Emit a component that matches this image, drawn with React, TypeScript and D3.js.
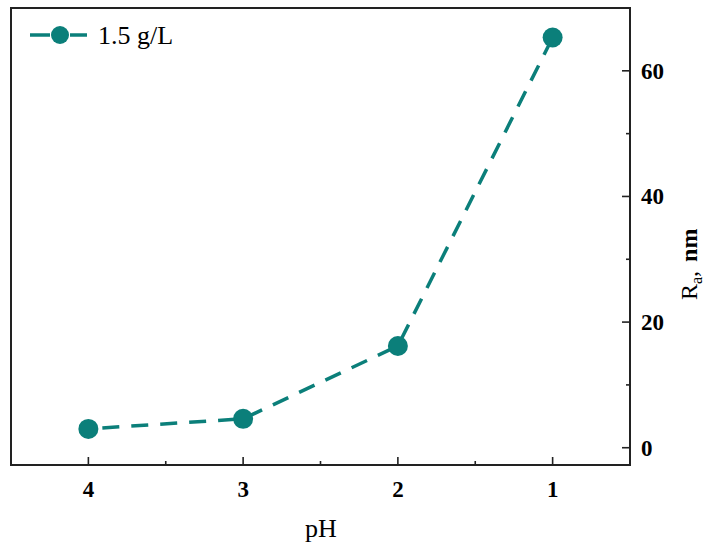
import React from "react";
import * as d3 from "d3";

const phValues = [4, 3, 2, 1];
const raValues = [3.0, 4.6, 16.2, 65.3];
const xMajorTicks = [4, 3, 2, 1];
const xMinorTicks = [3.5, 2.5, 1.5];
const yMajorTicks = [0, 20, 40, 60];
const yMinorTicks = [10, 30, 50, 70];
const seriesLabel = "1.5 g/L";

const W = 709, H = 547;
const L = 11, R = 630, T = 8, B = 465;
const color = "#0b7f7a";
const font = "'Liberation Serif', 'Times New Roman', serif";

export default function App() {
  const x = d3.scaleLinear().domain([4.5, 0.5]).range([L, R]);
  const y = d3.scaleLinear().domain([-2.75, 70]).range([B, T]);
  const line = d3.line<number>().x((_, i) => x(phValues[i])).y((d) => y(d));
  return (
    <svg width={W} height={H} style={{ position: "absolute", left: 0, top: 0 }}>
      <rect x={0} y={0} width={W} height={H} fill="#fff" />
      <path d={line(raValues) || ""} fill="none" stroke={color} strokeWidth={3.5} strokeDasharray="17 12" strokeDashoffset={-14} />
      {raValues.map((v, i) => (
        <circle key={i} cx={x(phValues[i])} cy={y(v)} r={10} fill={color} />
      ))}
      <rect x={L} y={T} width={R - L} height={B - T} fill="none" stroke="#222" strokeWidth={2} />
      {xMajorTicks.map((t) => (
        <g key={"xm" + t}>
          <line x1={x(t)} x2={x(t)} y1={B} y2={B - 8} stroke="#222" strokeWidth={1.6} />
          <text x={x(t)} y={497} textAnchor="middle" fontFamily={font} fontWeight="bold" fontSize={23}>{t}</text>
        </g>
      ))}
      {xMinorTicks.map((t) => (
        <line key={"xn" + t} x1={x(t)} x2={x(t)} y1={B} y2={B - 4} stroke="#222" strokeWidth={1.6} />
      ))}
      {yMajorTicks.map((t) => (
        <g key={"ym" + t}>
          <line x1={R} x2={R - 8} y1={y(t)} y2={y(t)} stroke="#222" strokeWidth={1.6} />
          <text x={641} y={y(t) + 8} textAnchor="start" fontFamily={font} fontWeight="bold" fontSize={23}>{t}</text>
        </g>
      ))}
      {yMinorTicks.map((t) => (
        <line key={"yn" + t} x1={R} x2={R - 4} y1={y(t)} y2={y(t)} stroke="#222" strokeWidth={1.6} />
      ))}
      <text transform={`translate(697,${300}) rotate(-90)`} textAnchor="start" fontFamily={font} fontSize={24}>
        <tspan>R</tspan>
        <tspan fontSize={16} dy={5}>a</tspan>
        <tspan dy={-5}>,</tspan>
        <tspan dx={9} fontWeight="bold">nm</tspan>
      </text>
      <text x={321} y={537} textAnchor="middle" fontFamily={font} fontSize={26}>pH</text>
      <line x1={30} x2={50} y1={35} y2={35} stroke={color} strokeWidth={3.5} />
      <line x1={70} x2={87} y1={35} y2={35} stroke={color} strokeWidth={3.5} />
      <circle cx={60} cy={35} r={9} fill={color} />
      <text x={98} y={44} fontFamily={font} fontSize={26}>{seriesLabel}</text>
    </svg>
  );
}
